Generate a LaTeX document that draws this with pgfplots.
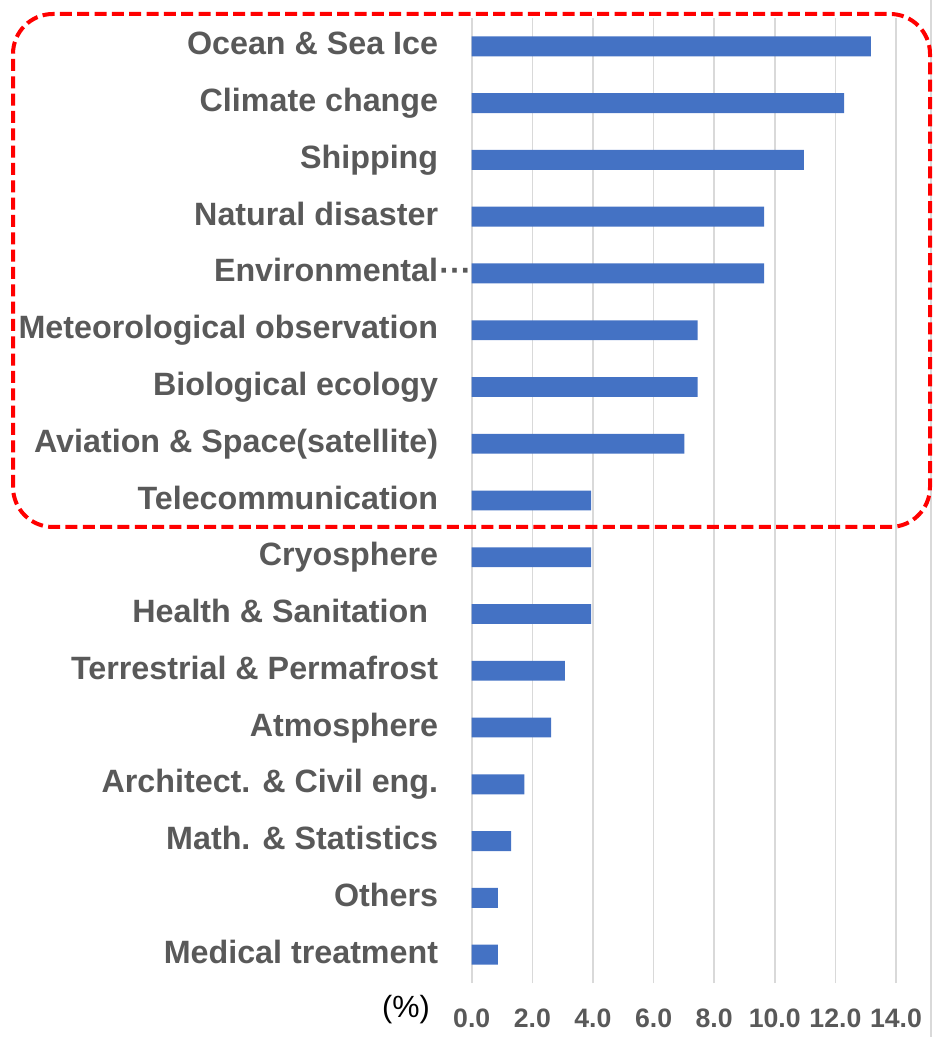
\documentclass[border=0pt]{standalone}
\usepackage{pgfplots}
\pgfplotsset{compat=1.18}
\usepackage{fontspec}
\setmainfont{Liberation Sans}
\definecolor{barblue}{HTML}{4472C4}
\definecolor{lblgrey}{HTML}{595959}
\definecolor{gridgrey}{HTML}{D9D9D9}
\begin{document}
\begin{tikzpicture}
\useasboundingbox (0,0) rectangle (702pt,777.75pt);
\draw[gridgrey, line width=1.2pt] (698.25pt,0) -- (698.25pt,777.75pt);
\begin{axis}[
 at={(353.8pt,40.5pt)}, anchor=south west,
 scale only axis, width=318.2pt, height=723.75pt,
 xbar, bar width=0.35,
 xmin=0, xmax=14, ymin=-0.5, ymax=16.5,
 xtick={0,2,...,14},
 ytick={0,...,16},
 yticklabels={{Medical treatment},{Others},{Math. \& Statistics},{Architect. \& Civil eng.},{Atmosphere},{Terrestrial \& Permafrost},{Health \& Sanitation\kern7.5pt},{Cryosphere},{Telecommunication},{Aviation \& Space(satellite)},{Biological ecology},{Meteorological observation},{Environmental\rlap{\kern1pt ···}},{Natural disaster},{Shipping},{Climate change},{Ocean \& Sea Ice}},
 axis line style={draw=none},
 major tick length=0pt,
 xmajorgrids, major grid style={gridgrey, line width=1.2pt},
 /pgf/number format/assume math mode=true,
 xticklabel style={font=\fontsize{20}{20}\selectfont\bfseries, text=lblgrey, anchor=center, inner sep=0pt, yshift=-26.25pt, /pgf/number format/.cd, fixed, fixed zerofill, precision=1},
 yticklabel style={font=\fontsize{24.2}{24.2}\selectfont\bfseries, text=lblgrey, anchor=base east, inner sep=0pt, xshift=-25pt, yshift=-6.4pt},
]
\addplot[fill=barblue, draw=none] coordinates {
(0.86,0) (0.86,1) (1.30,2) (1.74,3) (2.62,4) (3.07,5) (3.94,6) (3.94,7) (3.94,8)
(7.02,9) (7.45,10) (7.45,11) (9.65,12) (9.65,13) (10.96,14) (12.29,15) (13.17,16)
};
\end{axis}
\draw[red, line width=3pt, dash pattern=on 9pt off 4pt, rounded corners=30pt] (9.75pt,382.5pt) rectangle (697.5pt,767.25pt);
\node[inner sep=0pt] at (304.5pt,20.25pt) {\fontsize{23}{23}\selectfont (\%)};
\end{tikzpicture}
\end{document}
